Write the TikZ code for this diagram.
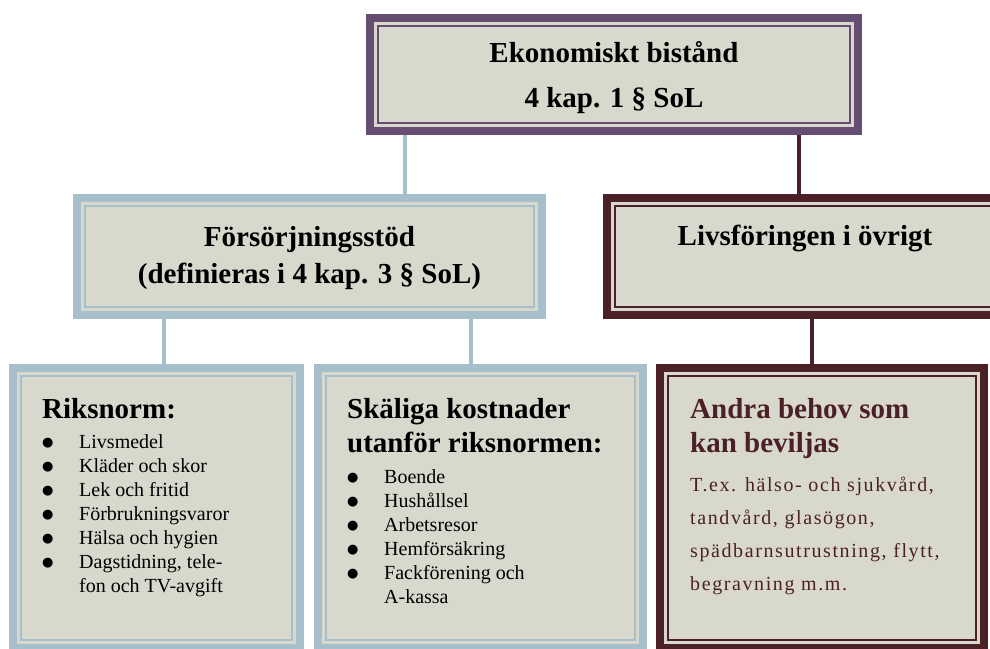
\documentclass[tikz,border=0pt]{standalone}
\usepackage{fontspec}
\setmainfont{Liberation Serif}
\newfontfamily\dotfont{DejaVu Sans}
\usetikzlibrary{positioning}

\definecolor{boxfill}{HTML}{D9D8CC}
\definecolor{plum}{HTML}{664E72}
\definecolor{steel}{HTML}{A6BFCB}
\definecolor{wine}{HTML}{4B2127}

\newcommand{\bul}{\makebox[37pt][l]{\raisebox{2pt}{\dotfont\fontsize{13}{24}\selectfont ●}}}

\begin{document}
\begin{tikzpicture}[x=1pt,y=-1pt,
	frame/.style={draw=#1,fill=boxfill,line width=8pt,inner sep=0pt},
	link/.style={draw=#1,line width=4pt},
	title/.style={font=\fontsize{29}{45}\selectfont\bfseries,align=center},
	head/.style={font=\fontsize{29}{34}\selectfont\bfseries,align=left,inner sep=0pt},
	list/.style={font=\fontsize{20}{24}\selectfont,align=left,inner sep=0pt}]
	
	\useasboundingbox (0,0) rectangle (990,648);
	\clip (0,0) rectangle (990,648);
	
	% boxes
	\node[frame=plum,minimum width=488pt,minimum height=113pt] (top) at (614,74.5) {};
	\node[frame=steel,minimum width=465pt,minimum height=117pt] (fors) at (309.5,256.5) {};
	\node[frame=wine,minimum width=396pt,minimum height=117pt] (livs) at (805,256.5) {};
	\node[frame=steel,minimum width=287pt,minimum height=280pt] (riks) at (156.5,508) {};
	\node[frame=steel,minimum width=325pt,minimum height=280pt] (skal) at (480.5,508) {};
	\node[frame=wine,minimum width=324pt,minimum height=280pt] (andra) at (822,508) {};
	
	% thin inner frame
	\foreach \b/\c in {top/plum,fors/steel,livs/wine,riks/steel,skal/steel,andra/wine}
		\draw[\c,line width=2pt] ([shift={(12pt,-12pt)}]\b.north west) rectangle ([shift={(-12pt,12pt)}]\b.south east);
	
	% connectors
	\draw[link=steel] ([xshift=39pt]top.south west) -- ([xshift=39pt]top.south west |- fors.north);
	\draw[link=wine] ([xshift=-63pt]top.south east) -- ([xshift=-63pt]top.south east |- livs.north);
	\draw[link=steel] ([xshift=-146pt]fors.south) -- ([xshift=-146pt]fors.south |- riks.north);
	\draw[link=steel] ([xshift=161pt]fors.south) -- ([xshift=161pt]fors.south |- skal.north);
	\draw[link=wine] ([xshift=7pt]livs.south) -- ([xshift=7pt]livs.south |- andra.north);
	
	% texts
	\node[title] (ekon) at ([yshift=-3pt]top.center) {Ekonomiskt bistånd\\4 kap. 1 § SoL};
	\node[title,font=\fontsize{29}{37}\selectfont\bfseries] (forst) at ([yshift=-2pt]fors.center) {Försörjningsstöd\\(definieras i 4 kap. 3 § SoL)};
	\node[title] (livst) at ([yshift=-44pt]livs.north) {Livsföringen i övrigt};
	
	\node[head,anchor=north west,below right=34pt and 33pt of riks.north west] (rikshead) {Riksnorm:};
	\node[list,anchor=north west,below right=70pt and 33pt of riks.north west] (rikslist)
		{\bul Livsmedel\\ \bul Kläder och skor\\ \bul Lek och fritid\\ \bul Förbrukningsvaror\\
		 \bul Hälsa och hygien\\ \bul Dagstidning, tele-\\ \hspace*{37pt}fon och TV-avgift};
	
	\node[head,anchor=north west,below right=34pt and 33pt of skal.north west] (skalhead) {Skäliga kostnader\\utanför riksnormen:};
	\node[list,anchor=north west,below right=105pt and 33pt of skal.north west] (skallist)
		{\bul Boende\\ \bul Hushållsel\\ \bul Arbetsresor\\ \bul Hemförsäkring\\
		 \bul Fackförening och\\ \hspace*{37pt}A-kassa};
	
	\node[head,text=wine,anchor=north west,below right=34pt and 34pt of andra.north west] (andrahead) {Andra behov som\\kan beviljas};
	\node[list,text=wine,font=\fontsize{20}{33}\selectfont\addfontfeatures{LetterSpace=8},anchor=north west,below right=113pt and 34pt of andra.north west] (andralist)
		{T.ex. hälso- och sjukvård,\\tandvård, glasögon,\\spädbarnsutrustning, flytt,\\begravning m.m.};
	
\end{tikzpicture}
\end{document}
